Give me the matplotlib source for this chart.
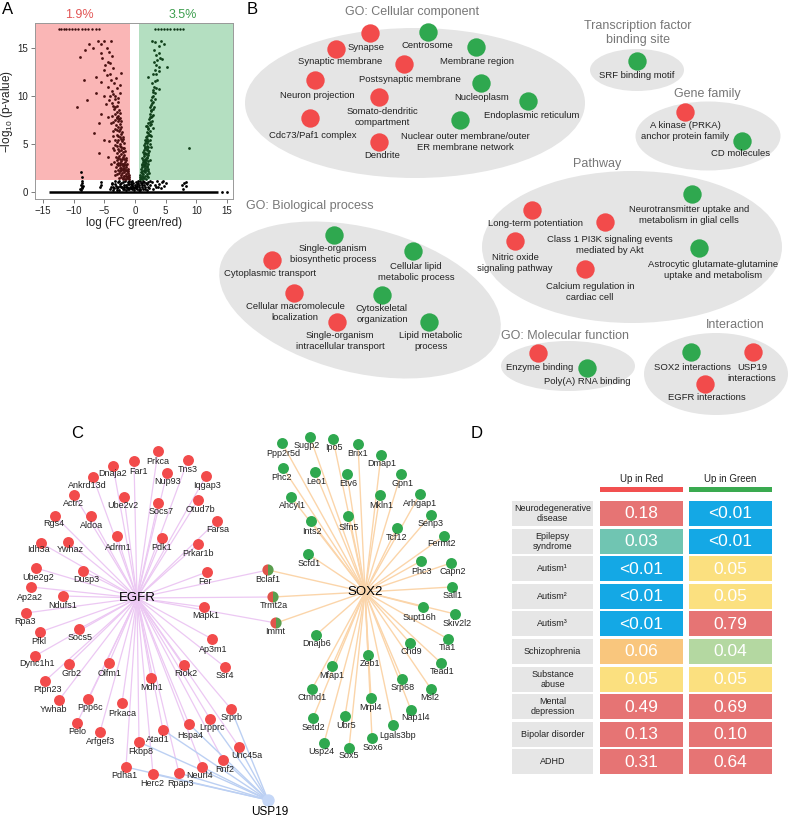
import matplotlib.pyplot as plt
from matplotlib.patches import Ellipse, Wedge, Rectangle

plt.rcParams['font.family'] = ['Liberation Sans', 'DejaVu Sans']
plt.rcParams['mathtext.fontset'] = 'custom'
plt.rcParams['mathtext.rm'] = 'Liberation Sans'
plt.rcParams['mathtext.it'] = 'Liberation Sans:italic'

RED = '#f24b4b'
GREEN = '#2fa84f'

# ---------------- A: volcano values ----------------
red_sig_x = [-0.9, -1.1, -1.3, -1.6, -1.9, -2.2, -2.6, -1.0, -1.2, -1.5, -1.8, -2.1, -2.4, -2.9, -3.3,
             -1.1, -1.4, -1.7, -2.0, -2.3, -2.7, -3.1, -1.3, -1.6, -1.9, -2.2, -2.5, -2.9, -3.4, -3.9,
             -1.4, -1.7, -2.0, -2.3, -2.6, -3.0, -1.6, -1.9, -2.2, -2.5, -2.8, -3.2, -3.6, -1.8, -2.1,
             -2.4, -2.7, -3.0, -4.2, -5.8, -4.4, -2.0, -2.3, -2.6, -2.9, -3.2, -2.2, -2.5, -2.8, -3.1,
             -3.5, -3.9, -2.4, -2.7, -3.0, -3.3, -4.4, -5.6, -5.8, -6.7, -5.0, -3.6, -2.6, -3.0, -3.4,
             -2.8, -3.3, -3.7, -4.2, -2.5, -3.3, -3.8, -4.4, -5.0, -6.4, -7.8, -9.4, -3.1, -3.9, -5.6,
             -6.4, -8.3, -2.2, -2.4, -4.0, -5.0, -4.4, -4.8, -3.7, -5.6, -4.6, -6.9, -8.9, -8.1, -7.5,
             -6.1, -5.6, -5.0, -3.9, -4.3, -5.3, -1.2, -1.5, -1.8, -2.0, -1.4, -1.7,
             -1.0, -1.2, -1.4, -1.7, -2.0, -2.3, -2.6, -1.3, -1.6, -1.9, -2.2, -2.5, -2.8, -3.2, -1.5,
             -1.8, -2.1, -2.4, -2.7, -3.0, -1.5, -1.8, -2.1, -2.4, -2.7, -3.1, -1.7, -2.0, -2.3, -2.6,
             -2.9, -3.4, -1.9, -2.2, -2.5, -2.8, -3.3, -2.1, -2.4, -2.7, -3.0, -3.5, -2.3, -2.6, -2.9,
             -3.3, -3.7, -2.5, -2.9, -3.2, -3.6, -2.7, -3.5, -4.0, -4.7, -3.0, -3.4, -4.6, -3.5, -4.1]
red_sig_y = [1.4, 1.5, 1.6, 1.4, 1.5, 1.6, 1.5, 1.8, 2.0, 1.9, 2.1, 2.0, 2.2, 1.9, 1.8,
             2.4, 2.6, 2.5, 2.7, 2.5, 2.8, 2.6, 3.0, 3.2, 3.0, 3.3, 3.1, 3.4, 3.2, 2.9,
             3.6, 3.9, 3.7, 4.0, 3.8, 4.1, 4.3, 4.6, 4.4, 4.8, 4.5, 4.9, 4.6, 5.1, 5.3,
             5.0, 5.5, 5.2, 5.3, 4.1, 3.7, 5.8, 6.1, 6.4, 6.0, 6.6, 6.8, 7.1, 7.4, 7.0,
             7.3, 7.2, 7.7, 8.0, 7.8, 8.2, 7.9, 8.2, 7.2, 6.2, 5.5, 5.9, 8.6, 9.0, 8.7,
             9.4, 9.7, 9.3, 9.6, 10.3, 10.0, 10.6, 11.0, 10.0, 10.3, 9.6, 8.9, 11.9, 11.7, 11.5,
             12.0, 11.7, 12.4, 11.2, 12.3, 12.7, 13.6, 13.3, 14.2, 14.5, 15.0, 15.0, 14.1, 14.8, 15.5,
             15.8, 15.5, 15.8, 15.8, 14.6, 14.0, 2.2, 2.3, 1.7, 2.3, 1.7, 2.9,
             1.6, 1.7, 1.4, 1.7, 1.4, 1.8, 2.0, 2.2, 2.3, 2.4, 2.3, 2.5, 2.3, 2.2, 2.8,
             2.8, 3.0, 2.8, 3.1, 3.0, 3.4, 3.5, 3.5, 3.5, 3.6, 3.7, 4.6, 4.2, 4.7, 4.3,
             4.8, 4.4, 5.6, 5.6, 5.8, 5.9, 5.5, 6.3, 6.6, 6.8, 6.5, 6.4, 7.4, 7.6, 7.7,
             7.5, 8.0, 8.3, 8.4, 8.9, 9.0, 9.8, 10.2, 10.0, 9.2, 10.9, 11.4, 12.2, 13.0, 13.5]
green_sig_x = [0.8, 1.0, 1.2, 1.5, 1.8, 2.1, 0.9, 1.1, 1.3, 1.6, 1.9, 2.3, 1.0, 1.2, 1.4, 1.7, 2.0,
               1.1, 1.3, 1.5, 1.8, 2.1, 1.2, 1.4, 1.6, 1.9, 2.2, 1.3, 1.5, 1.7, 2.0, 2.3, 1.5, 1.7,
               1.9, 2.2, 1.6, 1.8, 2.0, 2.3, 1.9, 2.1, 2.4, 2.0, 2.2, 2.5, 2.3, 2.6, 2.8, 2.4, 2.7,
               3.0, 2.5, 2.8, 3.1, 2.6, 3.0, 3.3, 2.9, 3.1, 3.9, 2.8, 3.6, 2.2, 3.0, 3.9, 3.1, 3.6,
               4.4, 5.3, 3.1, 3.9, 2.8, 3.3, 4.2, 4.7, 3.5, 4.0, 8.9, 2.6, 2.7, 2.9, 1.4, 1.6, 1.8,
               2.1, 2.4, 2.5,
               0.9, 1.1, 1.3, 1.6, 1.9, 1.0, 1.2, 1.5, 1.8, 2.1, 1.2, 1.4, 1.6, 1.9, 2.2, 1.3, 1.6,
               1.8, 2.0, 1.5, 1.8, 2.1, 1.6, 1.9, 2.2, 1.8, 2.0, 2.4, 1.9, 2.2, 2.5, 2.2, 2.4, 2.7,
               2.5, 2.8, 2.6, 2.9, 2.7, 3.0, 2.8, 3.2, 3.0, 3.4, 3.2, 3.5, 3.3, 4.0, 3.4, 4.1]
green_sig_y = [1.4, 1.5, 1.4, 1.5, 1.4, 1.6, 1.8, 2.0, 1.9, 2.1, 1.9, 2.0, 2.4, 2.6, 2.3, 2.5, 2.7,
               3.0, 3.2, 2.9, 3.1, 3.3, 3.6, 3.8, 3.5, 3.7, 3.9, 4.2, 4.4, 4.1, 4.5, 4.3, 4.9, 5.1,
               4.8, 5.3, 5.5, 5.8, 5.6, 6.0, 6.3, 6.6, 6.4, 6.9, 7.2, 7.0, 7.6, 7.9, 7.4, 8.2, 8.5,
               8.1, 8.9, 9.3, 8.9, 9.6, 10.0, 9.7, 10.5, 11.0, 10.8, 11.4, 11.7, 12.0, 12.3, 13.1, 13.6, 13.8,
               13.9, 13.1, 14.8, 15.2, 15.8, 15.7, 15.8, 15.5, 14.3, 14.5, 4.6, 4.7, 5.9, 6.7, 3.3, 4.7, 6.9,
               2.4, 5.0, 3.4,
               1.6, 1.7, 1.6, 1.7, 1.7, 2.1, 2.2, 2.2, 2.3, 2.2, 2.8, 2.7, 2.8, 2.6, 2.9, 3.4, 3.2,
               3.4, 3.6, 4.0, 4.0, 4.1, 4.6, 4.4, 4.7, 5.3, 5.1, 5.5, 5.9, 6.2, 6.0, 6.7, 7.3, 7.1,
               7.8, 8.0, 8.6, 8.7, 9.1, 9.4, 9.9, 10.3, 10.7, 10.9, 11.6, 12.3, 12.8, 12.6, 13.3, 14.0]
ns_x = [-8.8, -8.6, -8.7, -8.8, -8.6, -8.7, -8.9, -8.5, -8.7, -8.8, -5.6, -5.5, -5.7,
        -4.0, -3.6, -3.3, -3.0, -2.8, -2.5, -2.2, -2.0, -1.8, -1.6, -1.4, -1.2, -1.0, -0.8, -0.6,
        -0.5, -0.3, -0.1, 0.1, 0.3, 0.5, 0.7, 0.9, 1.1, 1.3, 1.5, 1.7, 2.0, 2.3, 2.5, -3.8, -3.5,
        -2.6, -1.5, -0.9, 0.2, 0.6, 1.9, -2.3, -0.7, -1.1, -0.4, 0.0, 0.4, 0.8, -1.7, 1.2,
        2.8, 3.2, 3.6, 4.0, 4.4, 4.8, 5.0, 3.4, 4.2, 7.7, 8.0, 8.3, 7.9, 8.4, 14.2, 15.0,
        -3.9, -3.7, -3.4, -3.1, -2.9, -2.7, -2.4, -2.1, -1.9, -1.7, -1.5, -1.3, -1.1, -0.9, -0.7,
        -0.5, -0.3, -0.2, 0.0, 0.2, 0.4, 0.6, 0.8, 1.0, 1.2, 1.4, 1.6, 1.8, 2.1, 2.4, -1.2, -0.4,
        0.5, 1.3, -2.6, -3.2, 2.2, 3.0, 3.8, 4.6]
ns_y = [0.2, 0.4, 0.6, 0.8, 1.0, 1.2, 0.3, 0.7, 1.6, 2.1, 1.1, 0.8, 0.5,
        0.3, 0.6, 0.9, 0.4, 1.1, 0.7, 1.0, 0.3, 0.8, 1.2, 0.5, 0.9, 1.2, 0.6, 0.9,
        0.3, 0.6, 0.2, 0.4, 0.7, 1.0, 0.5, 1.2, 0.8, 0.3, 1.1, 0.6, 0.9, 0.4, 1.2, 1.0, 0.2,
        0.2, 0.2, 0.3, 1.1, 0.2, 0.2, 0.5, 1.1, 0.4, 0.8, 0.5, 0.9, 0.2, 0.5, 1.0,
        1.1, 0.8, 1.2, 0.9, 1.1, 0.7, 1.0, 0.5, 0.4, 0.8, 1.0, 0.7, 0.3, 1.1, 0.0, 0.0,
        0.6, 0.9, 0.4, 0.7, 0.2, 0.5, 0.9, 0.6, 1.1, 0.3, 0.8, 0.6, 0.3, 0.9, 0.4,
        0.7, 1.0, 0.4, 0.8, 0.6, 0.3, 0.8, 0.3, 1.0, 0.5, 0.8, 0.3, 1.0, 0.6, 0.8, 1.1, 1.2,
        1.2, 1.2, 1.2, 1.2, 1.1, 0.3, 0.6, 1.2]
red_cap_x = [-12.4, -12.0, -11.6, -11.2, -10.8, -10.3, -9.8, -9.3, -8.7, -8.1, -7.6, -7.0, -6.4, -5.8]
green_cap_x = [3.3, 3.8, 4.3, 4.8, 5.3, 5.8, 6.3, 6.8, 7.3, 7.9]
cap_y = 17.0
zero_band_x = [-14.0, 13.6]
fc_left, fc_right, p_cut = -0.83, 0.72, 1.3
pct_red, pct_green = '1.9%', '3.5%'

# ---------------- B: enrichment terms ----------------
cc_terms = ['Synapse', 'Centrosome', 'Synaptic membrane', 'Membrane region', 'Postsynaptic membrane',
            'Neuron projection', 'Nucleoplasm', 'Somato-dendritic\ncompartment', 'Endoplasmic reticulum',
            'Cdc73/Paf1 complex', 'Nuclear outer membrane/outer\nER membrane network', 'Dendrite']
cc_up = ['r', 'g', 'r', 'g', 'r', 'r', 'g', 'r', 'g', 'r', 'g', 'r']
tf_terms = ['SRF binding motif']
tf_up = ['g']
gf_terms = ['A kinase (PRKA)\nanchor protein family', 'CD molecules']
gf_up = ['r', 'g']
pw_terms = ['Neurotransmitter uptake and\nmetabolism in glial cells', 'Long-term potentiation',
            'Class 1 PI3K signaling events\nmediated by Akt', 'Nitric oxide\nsignaling pathway',
            'Astrocytic glutamate-glutamine\nuptake and metabolism', 'Calcium regulation in\ncardiac cell']
pw_up = ['g', 'r', 'r', 'r', 'g', 'r']
bp_terms = ['Single-organism\nbiosynthetic process', 'Cellular lipid\nmetabolic process', 'Cytoplasmic transport',
            'Cellular macromolecule\nlocalization', 'Cytoskeletal\norganization',
            'Single-organism\nintracellular transport', 'Lipid metabolic\nprocess']
bp_up = ['g', 'g', 'r', 'r', 'g', 'r', 'g']
mf_terms = ['Enzyme binding', 'Poly(A) RNA binding']
mf_up = ['r', 'g']
in_terms = ['SOX2 interactions', 'USP19\ninteractions', 'EGFR interactions']
in_up = ['g', 'r', 'r']

# ---------------- C: network genes ----------------
egfr_genes = ['Prkca', 'Dnaja2', 'Far1', 'Tns3', 'Nup93', 'Iqgap3', 'Ankrd13d', 'Ube2v2', 'Socs7', 'Otud7b',
              'Actr2', 'Rgs4', 'Aldoa', 'Farsa', 'Adrm1', 'Pdk1', 'Prkar1b', 'Idh3a', 'Ywhaz', 'Ube2g2',
              'Dusp3', 'Fer', 'Ap2a2', 'Ndufs1', 'Mapk1', 'Rpa3', 'Pfkl', 'Socs5', 'Ap3m1', 'Dync1h1',
              'Grb2', 'Olfm1', 'Riok2', 'Ssr4', 'Mdh1', 'Ptpn23', 'Ywhab', 'Ppp6c', 'Prkaca', 'Srprb',
              'Pelo', 'Lrpprc', 'Hspa4', 'Atad1', 'Arfgef3', 'Fkbp8', 'Unc45a', 'Rnf2', 'Pdha1', 'Neurl4',
              'Herc2', 'Rpap3']
usp19_genes = ['Srprb', 'Unc45a', 'Rnf2', 'Neurl4', 'Rpap3', 'Herc2', 'Pdha1', 'Fkbp8', 'Atad1', 'Hspa4', 'Lrpprc']
shared_genes = ['Bclaf1', 'Trmt2a', 'Immt']
sox2_genes = ['Ppp2r5d', 'Sugp2', 'Ipo5', 'Brix1', 'Dmap1', 'Phc2', 'Leo1', 'Etv6', 'Gpn1', 'Mkln1',
              'Arhgap1', 'Ahcyl1', 'Senp3', 'Slfn5', 'Ints2', 'Tcf12', 'Fermt2', 'Scfd1', 'Phc3', 'Capn2',
              'Sall1', 'Supt16h', 'Skiv2l2', 'Tia1', 'Chd9', 'Dnajb6', 'Zeb1', 'Tead1', 'Mfap1', 'Srp68',
              'Msl2', 'Ctnnd1', 'Mrpl4', 'Nap1l4', 'Setd2', 'Ubr5', 'Lgals3bp', 'Usp24', 'Sox6', 'Sox5']

# ---------------- D: disorder enrichment ----------------
disorders = ['Neurodegenerative\ndisease', 'Epilepsy\nsyndrome', 'Autism\u00b9', 'Autism\u00b2', 'Autism\u00b3',
             'Schizophrenia', 'Substance\nabuse', 'Mental\ndepression', 'Bipolar disorder', 'ADHD']
p_up_red = ['0.18', '0.03', '<0.01', '<0.01', '<0.01', '0.06', '0.05', '0.49', '0.13', '0.31']
p_up_green = ['<0.01', '<0.01', '0.05', '0.05', '0.79', '0.04', '0.05', '0.69', '0.10', '0.64']

# ---------------- layout (figure pixels) ----------------
GROUPS = {  # name: (cx, cy, w, h, angle, title_x, title_y)
    'GO: Cellular component': (415, 103, 340, 150, 0, 412, 12),
    'Transcription factor\nbinding site': (637, 70, 94, 42, 0, 638, 33),
    'Gene family': (708, 136, 145, 69, 0, 707, 94),
    'Pathway': (632, 247, 300, 152, 0, 597, 164),
    'GO: Biological process': (360, 300, 288, 145, 14, 310, 206),
    'GO: Molecular function': (568, 366, 134, 50, 0, 565, 336),
    'Interaction': (716, 374, 144, 82, 0, 735, 325),
}
TERM_POS = {  # term: (circle x, y, label x, y)
    'Synapse': (370, 33, 366, 48), 'Centrosome': (428, 32, 427, 45),
    'Synaptic membrane': (336, 49, 340, 62), 'Membrane region': (476, 47, 477, 62),
    'Postsynaptic membrane': (404, 64, 410, 79), 'Neuron projection': (315, 80, 317, 96),
    'Nucleoplasm': (481, 83, 482, 98), 'Somato-dendritic\ncompartment': (379, 97, 382, 117),
    'Endoplasmic reticulum': (528, 101, 532, 116), 'Cdc73/Paf1 complex': (310, 118, 313, 136),
    'Nuclear outer membrane/outer\nER membrane network': (460, 120, 465, 142), 'Dendrite': (379, 142, 382, 155),
    'SRF binding motif': (637, 61, 637, 76),
    'A kinase (PRKA)\nanchor protein family': (685, 112, 685, 131), 'CD molecules': (742, 141, 741, 154),
    'Neurotransmitter uptake and\nmetabolism in glial cells': (692, 194, 689, 215),
    'Long-term potentiation': (532, 210, 535, 223),
    'Class 1 PI3K signaling events\nmediated by Akt': (605, 222, 610, 245),
    'Nitric oxide\nsignaling pathway': (515, 241, 515, 263),
    'Astrocytic glutamate-glutamine\nuptake and metabolism': (699, 248, 713, 270),
    'Calcium regulation in\ncardiac cell': (585, 269, 590, 292),
    'Single-organism\nbiosynthetic process': (334, 235, 333, 254),
    'Cellular lipid\nmetabolic process': (413, 251, 416, 272),
    'Cytoplasmic transport': (272, 260, 270, 274),
    'Cellular macromolecule\nlocalization': (294, 293, 295, 312),
    'Cytoskeletal\norganization': (382, 295, 382, 314),
    'Single-organism\nintracellular transport': (337, 322, 340, 341),
    'Lipid metabolic\nprocess': (429, 322, 431, 341),
    'Enzyme binding': (538, 353, 540, 368), 'Poly(A) RNA binding': (587, 368, 587, 382),
    'SOX2 interactions': (691, 352, 692, 367), 'USP19\ninteractions': (753, 352, 752, 373),
    'EGFR interactions': (705, 384, 707, 398),
}
HUBS = {'EGFR': (137, 598), 'SOX2': (365, 592), 'USP19': (268, 800)}
NODE_POS = {  # gene: (circle x, y, label x, y)
    'Prkca': (158, 451, 158, 461), 'Dnaja2': (113, 466, 113, 474), 'Far1': (134, 461, 139, 471),
    'Tns3': (188, 460, 188, 469), 'Nup93': (167, 473, 168, 482), 'Iqgap3': (206, 476, 207, 485),
    'Ankrd13d': (93, 477, 87, 486), 'Ube2v2': (124, 497, 123, 506), 'Socs7': (158, 503, 161, 512),
    'Otud7b': (198, 500, 200, 509), 'Actr2': (74, 495, 73, 504), 'Rgs4': (55, 516, 54, 524),
    'Aldoa': (91, 516, 92, 526), 'Farsa': (217, 521, 218, 530), 'Adrm1': (117, 536, 118, 547),
    'Pdk1': (162, 538, 162, 547), 'Prkar1b': (198, 544, 198, 553), 'Idh3a': (41, 543, 38, 550),
    'Ywhaz': (68, 542, 70, 550), 'Ube2g2': (36, 568, 38, 577), 'Dusp3': (83, 571, 86, 580),
    'Fer': (207, 572, 205, 581), 'Ap2a2': (31, 587, 30, 597), 'Ndufs1': (63, 596, 63, 605),
    'Mapk1': (204, 607, 206, 616), 'Rpa3': (26, 613, 25, 621), 'Pfkl': (40, 632, 39, 641),
    'Socs5': (79, 629, 80, 638), 'Ap3m1': (212, 639, 213, 649), 'Dync1h1': (35, 656, 37, 664),
    'Grb2': (69, 664, 71, 673), 'Olfm1': (109, 663, 110, 673), 'Riok2': (184, 665, 186, 674),
    'Ssr4': (225, 667, 225, 676), 'Mdh1': (151, 678, 152, 687), 'Ptpn23': (45, 681, 48, 689),
    'Ywhab': (59, 700, 53, 709), 'Ppp6c': (88, 699, 90, 708), 'Prkaca': (122, 703, 122, 713),
    'Srprb': (231, 709, 232, 718), 'Pelo': (77, 723, 77, 732), 'Lrpprc': (210, 719, 212, 728),
    'Hspa4': (189, 724, 190, 735), 'Atad1': (163, 730, 158, 739), 'Arfgef3': (100, 732, 101, 741),
    'Fkbp8': (139, 742, 141, 752), 'Unc45a': (239, 747, 247, 756), 'Rnf2': (223, 760, 225, 769),
    'Pdha1': (126, 767, 124, 776), 'Neurl4': (202, 767, 200, 775), 'Herc2': (153, 774, 152, 783),
    'Rpap3': (179, 773, 180, 784),
    'Bclaf1': (268, 570, 268, 580), 'Trmt2a': (273, 597, 274, 606), 'Immt': (276, 623, 275, 632),
    'Ppp2r5d': (282, 443, 283, 454), 'Sugp2': (310, 437, 307, 445), 'Ipo5': (333, 439, 334, 447),
    'Brix1': (358, 444, 358, 453), 'Dmap1': (381, 455, 382, 463), 'Phc2': (283, 468, 282, 477),
    'Leo1': (315, 472, 316, 481), 'Etv6': (347, 474, 348, 483), 'Gpn1': (401, 474, 402, 483),
    'Mkln1': (380, 495, 381, 505), 'Arhgap1': (420, 494, 420, 503), 'Ahcyl1': (291, 497, 292, 506),
    'Senp3': (431, 515, 431, 523), 'Slfn5': (348, 516, 349, 527), 'Ints2': (311, 521, 312, 531),
    'Tcf12': (397, 528, 397, 537), 'Fermt2': (444, 536, 442, 544), 'Scfd1': (308, 554, 309, 564),
    'Phc3': (421, 561, 421, 571), 'Capn2': (451, 563, 453, 572), 'Sall1': (452, 587, 453, 596),
    'Supt16h': (423, 607, 419, 617), 'Skiv2l2': (455, 614, 457, 623), 'Tia1': (448, 639, 447, 647),
    'Chd9': (410, 643, 411, 652), 'Dnajb6': (316, 635, 317, 644), 'Zeb1': (368, 655, 370, 664),
    'Tead1': (441, 663, 442, 671), 'Mfap1': (332, 666, 332, 676), 'Srp68': (402, 679, 403, 688),
    'Msl2': (431, 689, 430, 698), 'Ctnnd1': (312, 689, 312, 697), 'Mrpl4': (371, 698, 371, 707),
    'Nap1l4': (411, 710, 416, 718), 'Setd2': (313, 718, 313, 728), 'Ubr5': (345, 716, 346, 726),
    'Lgals3bp': (393, 725, 398, 735), 'Usp24': (324, 743, 321, 752), 'Sox6': (372, 738, 373, 747),
    'Sox5': (349, 748, 349, 756),
}


def pcolor(p):
    if p == '<0.01':
        return '#14a8e5'
    return {'0.03': '#70c5b2', '0.04': '#b4d8a1', '0.05': '#fbe07f', '0.06': '#f9c67d'}.get(p, '#e67474')


def volcano(fig):
    ax = fig.add_axes([35 / 790, 1 - 199 / 818, 198 / 790, 176 / 818])
    ax.set_xlim(-16.3, 16.0)
    ax.set_ylim(-0.7, 17.65)
    ax.fill_between([-16.3, fc_left], p_cut, 17.65, color='#fab6b6', lw=0)
    ax.fill_between([fc_right, 16.0], p_cut, 17.65, color='#b4dfc1', lw=0)
    ax.plot(zero_band_x, [0, 0], color='black', lw=1.8, solid_capstyle='butt')
    ax.scatter(ns_x, ns_y, s=4, color='black', lw=0)
    ax.scatter(red_sig_x, red_sig_y, s=4, color='#4a1111', lw=0)
    ax.scatter(green_sig_x, green_sig_y, s=4, color='#10401a', lw=0)
    ax.scatter(red_cap_x, [cap_y] * len(red_cap_x), s=3, color='#3a0c0c', lw=0)
    ax.scatter(green_cap_x, [cap_y] * len(green_cap_x), s=3, color='#0c3314', lw=0)
    ax.set_xticks([-15, -10, -5, 0, 5, 10, 15])
    ax.set_xticklabels(['\u221215', '\u221210', '\u22125', '0', '5', '10', '15'])
    ax.set_yticks([0, 5, 10, 15])
    ax.tick_params(labelsize=7, length=3, width=0.6, color='#666', labelcolor='#222', pad=2)
    for s in ax.spines.values():
        s.set_color('#999')
        s.set_linewidth(0.7)
    ax.set_xlabel('log (FC green/red)', fontsize=8.5, color='#222')
    ax.set_ylabel('\u2212log$_{10}$ (p-value)', fontsize=8.5, color='#222')
    ax.xaxis.set_label_coords(0.5, -0.105)
    ax.yaxis.set_label_coords(-0.1, 0.5)
    ax.text(-9.1, 18.5, pct_red, color='#e25555', fontsize=9, ha='center', va='center', clip_on=False)
    ax.text(7.8, 18.5, pct_green, color='#3d9e4e', fontsize=9, ha='center', va='center', clip_on=False)


def enrichment(ax):
    groups = [('GO: Cellular component', cc_terms, cc_up),
              ('Transcription factor\nbinding site', tf_terms, tf_up),
              ('Gene family', gf_terms, gf_up),
              ('Pathway', pw_terms, pw_up),
              ('GO: Biological process', bp_terms, bp_up),
              ('GO: Molecular function', mf_terms, mf_up),
              ('Interaction', in_terms, in_up)]
    for name, terms, ups in groups:
        cx, cy, w, h, ang, tx, ty = GROUPS[name]
        ax.add_patch(Ellipse((cx, cy), w, h, angle=ang, color='#e5e5e5', lw=0, zorder=0))
        ax.text(tx, ty, name, fontsize=9, color='#777', ha='center', va='center', linespacing=1.3)
        for t, u in zip(terms, ups):
            x, y, lx, ly = TERM_POS[t]
            ax.scatter([x], [y], s=175, color=RED if u == 'r' else GREEN, lw=0, zorder=2)
            ax.text(lx, ly, t, fontsize=6.8, color='#222', ha='center', va='center', linespacing=1.35, zorder=3)


def network(ax):
    ex, ey = HUBS['EGFR']
    sx, sy = HUBS['SOX2']
    ux, uy = HUBS['USP19']
    for g in egfr_genes + shared_genes:
        x, y = NODE_POS[g][:2]
        ax.plot([ex, x], [ey, y], color='#ecc8f3', lw=0.9, zorder=1)
    for g in sox2_genes + shared_genes:
        x, y = NODE_POS[g][:2]
        ax.plot([sx, x], [sy, y], color='#fbd5aa', lw=1.0, zorder=1)
    for g in usp19_genes:
        x, y = NODE_POS[g][:2]
        ax.plot([ux, x], [uy, y], color='#bcd0f3', lw=1.0, zorder=1)
    ax.scatter([NODE_POS[g][0] for g in egfr_genes], [NODE_POS[g][1] for g in egfr_genes],
               s=62, color=RED, lw=0, zorder=2)
    ax.scatter([NODE_POS[g][0] for g in sox2_genes], [NODE_POS[g][1] for g in sox2_genes],
               s=62, color=GREEN, lw=0, zorder=2)
    for g in shared_genes:
        x, y = NODE_POS[g][:2]
        ax.add_patch(Wedge((x, y), 5.6, 90, 270, color='#e0554a', lw=0, zorder=2))
        ax.add_patch(Wedge((x, y), 5.6, -90, 90, color='#5a9e4e', lw=0, zorder=2))
    for g in egfr_genes + shared_genes + sox2_genes:
        x, y, lx, ly = NODE_POS[g]
        ax.text(lx, ly, g, fontsize=6.5, color='#222', ha='center', va='center', zorder=3)
    ax.scatter([ux], [uy], s=80, color='#c5d7f7', lw=0, zorder=2)
    ax.text(ex, ey, 'EGFR', fontsize=9.5, ha='center', va='center', zorder=3)
    ax.text(sx, sy, 'SOX2', fontsize=9.5, ha='center', va='center', zorder=3)
    ax.text(ux + 2, uy + 12, 'USP19', fontsize=8.5, ha='center', va='center', zorder=3)


def disorder_table(ax):
    top, rh, gap = 501, 25, 2.6
    cols = [(512, 81), (600, 83), (689, 83)]
    ax.text(641.5, 479, 'Up in Red', fontsize=7, ha='center', va='center', color='#222')
    ax.text(730.5, 479, 'Up in Green', fontsize=7, ha='center', va='center', color='#222')
    ax.add_patch(Rectangle((600, 487), 83, 5, color='#f25050', lw=0))
    ax.add_patch(Rectangle((689, 487), 83, 5, color='#3aaa50', lw=0))
    for i, d in enumerate(disorders):
        y = top + i * (rh + gap)
        ax.add_patch(Rectangle((cols[0][0], y), cols[0][1], rh, color='#e6e6e6', lw=0))
        ax.text(cols[0][0] + cols[0][1] / 2, y + rh / 2, d, fontsize=6.5, color='#222',
                ha='center', va='center', linespacing=1.15)
        for (cx, cw), p in zip(cols[1:], [p_up_red[i], p_up_green[i]]):
            ax.add_patch(Rectangle((cx, y), cw, rh, color=pcolor(p), lw=0))
            ax.text(cx + cw / 2, y + rh / 2 + 0.5, p, fontsize=12.5, color='white', ha='center', va='center')


fig = plt.figure(figsize=(7.9, 8.18), dpi=100)
volcano(fig)
ax = fig.add_axes([0, 0, 1, 1])
ax.set_xlim(0, 790)
ax.set_ylim(818, 0)
ax.axis('off')
ax.patch.set_alpha(0)
enrichment(ax)
network(ax)
disorder_table(ax)
for letter, x, y in [('A', 8, 9), ('B', 252, 9), ('C', 77, 433), ('D', 477, 433)]:
    ax.text(x, y, letter, fontsize=12, ha='center', va='center')
fig.savefig('out.png', dpi=100)
